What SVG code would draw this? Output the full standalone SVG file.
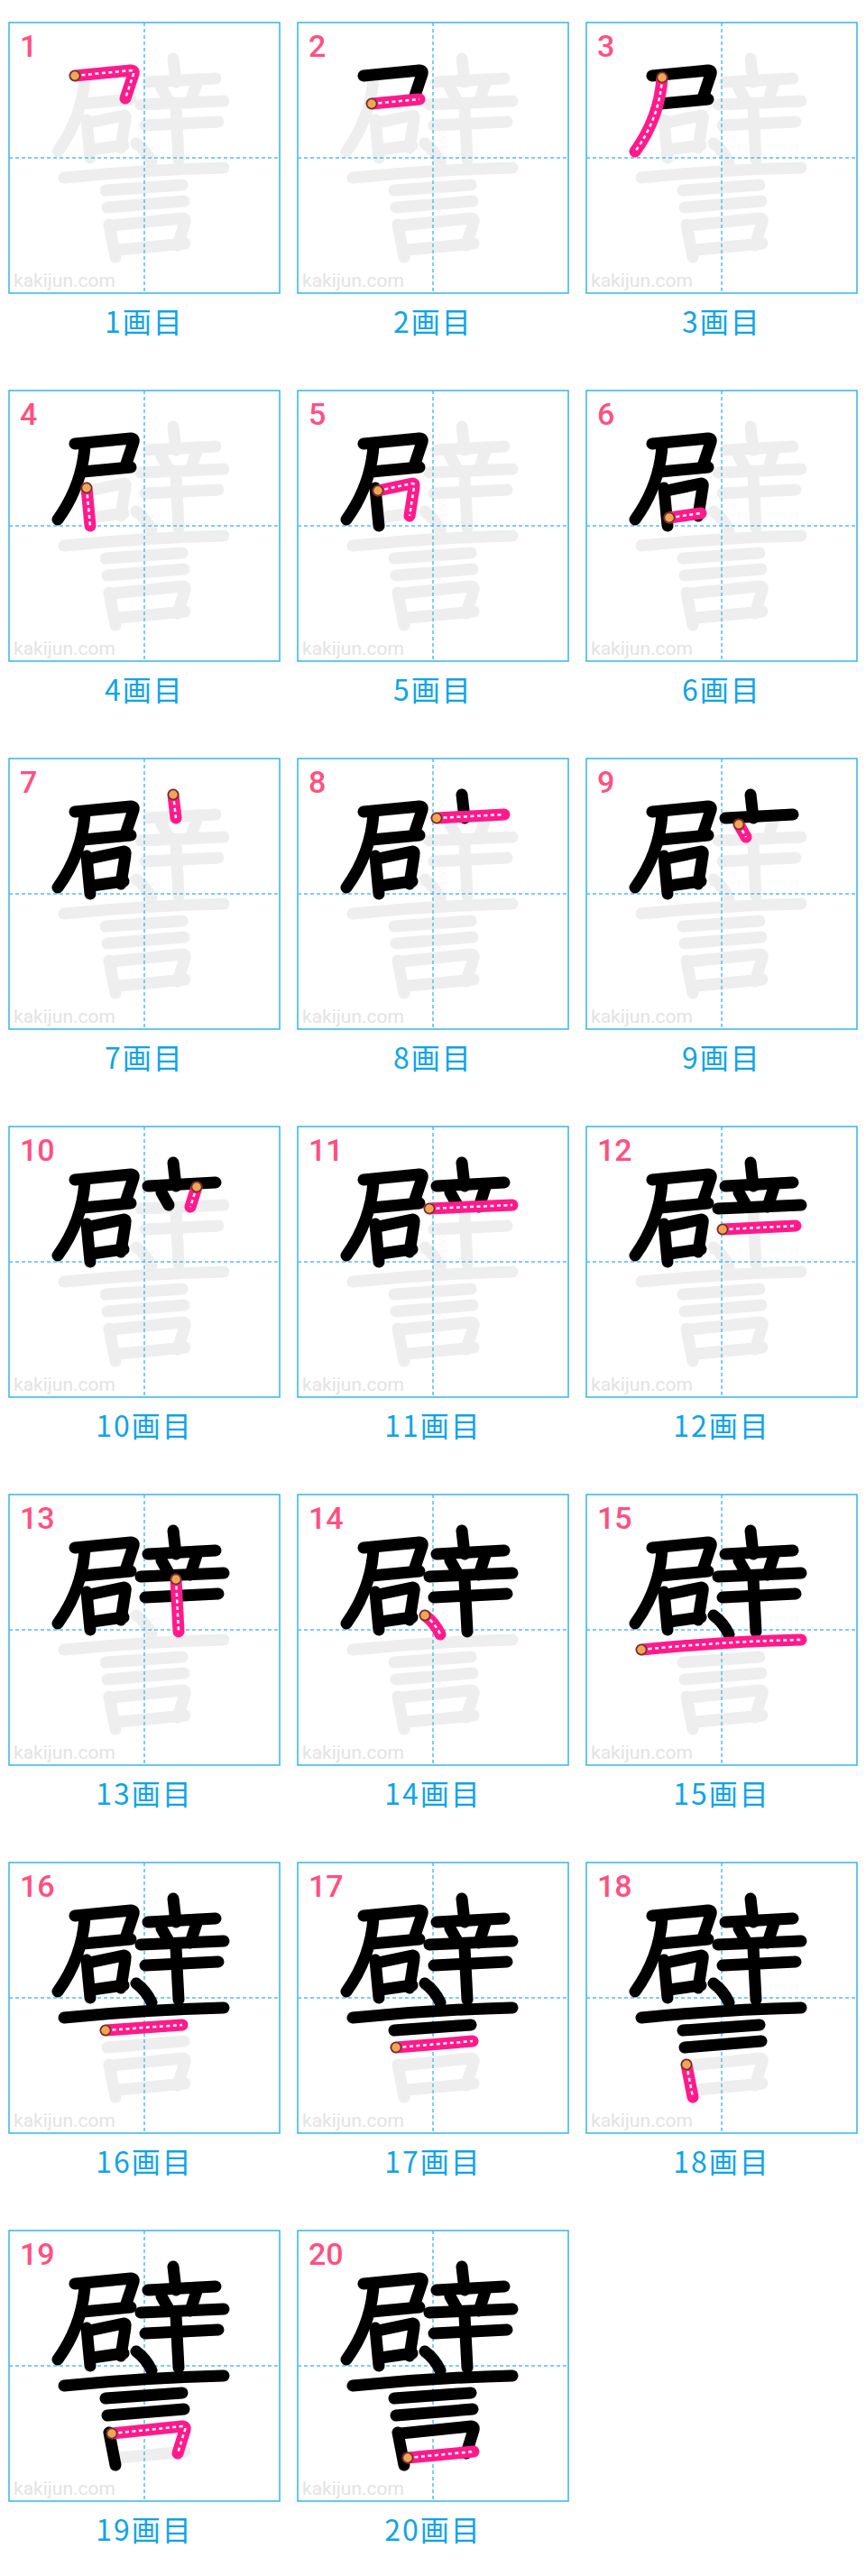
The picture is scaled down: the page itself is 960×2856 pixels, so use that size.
<svg xmlns="http://www.w3.org/2000/svg" width="960" height="2856" viewBox="0 0 960 2856">
<style>
.bx{fill:#fff;stroke:#33b5ef;stroke-width:1.5}
.cl{stroke:#4fc0f0;stroke-width:1.5;stroke-dasharray:4 3}
.wm{font-family:Roboto,"Liberation Sans",sans-serif;font-size:21px;fill:#e3e3e3}
.n{font-family:Roboto,"Liberation Sans",sans-serif;font-size:34px;font-weight:500;fill:#ff4f80}
.c{font-family:"Noto Sans CJK JP","Noto Sans",sans-serif;font-size:32px;fill:#0ea4e8;text-anchor:middle;letter-spacing:2px}
.g,.k,.r,.w{fill:none;stroke-linecap:round;stroke-linejoin:round}
.g{stroke:#eeeeee;stroke-width:13}
.k{stroke:#000;stroke-width:13}
.r{stroke:#ff1a8c;stroke-width:13}
.w{stroke:#fff;stroke-width:2.5;stroke-dasharray:4 3.5;stroke-linecap:butt}
.o{fill:#f7a257;stroke:#5b3a1c;stroke-width:1.5}
</style>
<defs>
<path id="s1" d="M73,59 L135,53 Q139,53 138,57 L129,84"/>
<path id="s2" d="M82,90 L135,85"/>
<path id="s3" d="M84,61 C82,92 72,118 54,143"/>
<path id="s4" d="M86,108 L90,150"/>
<path id="s5" d="M89,111 L127,103 Q130,103 129,107 L124,139"/>
<path id="s6" d="M92,141 L127,136"/>
<path id="s7" d="M182,40 L185,66"/>
<path id="s8" d="M154,66 L229,62"/>
<path id="s9" d="M169,73 L177,87"/>
<path id="s10" d="M208,67 L201,89"/>
<path id="s11" d="M146,91 L238,87"/>
<path id="s12" d="M151,114 L232,110"/>
<path id="s13" d="M185,94 L188,152"/>
<path id="s14" d="M141,134 Q152,142 158,155"/>
<path id="s15" d="M61,172 Q150,163 238,161"/>
<path id="s16" d="M107,186 L192,180"/>
<path id="s17" d="M109,205 L194,198"/>
<path id="s18" d="M111,224 L118,260"/>
<path id="s19" d="M114,225 L192,217 Q196,217 195,221 L187,247"/>
<path id="s20" d="M122,252 L195,245"/>
<g id="b1"><use href="#s1"/></g>
<g id="b2"><use href="#b1"/><use href="#s2"/></g>
<g id="b3"><use href="#b2"/><use href="#s3"/></g>
<g id="b4"><use href="#b3"/><use href="#s4"/></g>
<g id="b5"><use href="#b4"/><use href="#s5"/></g>
<g id="b6"><use href="#b5"/><use href="#s6"/></g>
<g id="b7"><use href="#b6"/><use href="#s7"/></g>
<g id="b8"><use href="#b7"/><use href="#s8"/></g>
<g id="b9"><use href="#b8"/><use href="#s9"/></g>
<g id="b10"><use href="#b9"/><use href="#s10"/></g>
<g id="b11"><use href="#b10"/><use href="#s11"/></g>
<g id="b12"><use href="#b11"/><use href="#s12"/></g>
<g id="b13"><use href="#b12"/><use href="#s13"/></g>
<g id="b14"><use href="#b13"/><use href="#s14"/></g>
<g id="b15"><use href="#b14"/><use href="#s15"/></g>
<g id="b16"><use href="#b15"/><use href="#s16"/></g>
<g id="b17"><use href="#b16"/><use href="#s17"/></g>
<g id="b18"><use href="#b17"/><use href="#s18"/></g>
<g id="b19"><use href="#b18"/><use href="#s19"/></g>
<g id="b20"><use href="#b19"/><use href="#s20"/></g>
</defs>
<rect width="960" height="2856" fill="#fff"/>

<g id="p1" transform="translate(10,25)">
<rect class="bx" width="300" height="300"/><use href="#b20" class="g"/>
<line class="cl" x1="150" y1="0" x2="150" y2="300"/><line class="cl" x1="0" y1="150" x2="300" y2="150"/>
<use href="#s1" class="r"/><use href="#s1" class="w"/><circle class="o" cx="73" cy="59" r="5.5"/>
<text class="n" x="12" y="38">1</text><text class="wm" x="5" y="293">kakijun.com</text><text class="c" x="150" y="344">1画目</text>
</g>
<g id="p2" transform="translate(330,25)">
<rect class="bx" width="300" height="300"/><use href="#b20" class="g"/>
<line class="cl" x1="150" y1="0" x2="150" y2="300"/><line class="cl" x1="0" y1="150" x2="300" y2="150"/>
<use href="#b1" class="k"/>
<use href="#s2" class="r"/><use href="#s2" class="w"/><circle class="o" cx="82" cy="90" r="5.5"/>
<text class="n" x="12" y="38">2</text><text class="wm" x="5" y="293">kakijun.com</text><text class="c" x="150" y="344">2画目</text>
</g>
<g id="p3" transform="translate(650,25)">
<rect class="bx" width="300" height="300"/><use href="#b20" class="g"/>
<line class="cl" x1="150" y1="0" x2="150" y2="300"/><line class="cl" x1="0" y1="150" x2="300" y2="150"/>
<use href="#b2" class="k"/>
<use href="#s3" class="r"/><use href="#s3" class="w"/><circle class="o" cx="84" cy="61" r="5.5"/>
<text class="n" x="12" y="38">3</text><text class="wm" x="5" y="293">kakijun.com</text><text class="c" x="150" y="344">3画目</text>
</g>

<g id="p4" transform="translate(10,433)">
<rect class="bx" width="300" height="300"/><use href="#b20" class="g"/>
<line class="cl" x1="150" y1="0" x2="150" y2="300"/><line class="cl" x1="0" y1="150" x2="300" y2="150"/>
<use href="#b3" class="k"/>
<use href="#s4" class="r"/><use href="#s4" class="w"/><circle class="o" cx="86" cy="108" r="5.5"/>
<text class="n" x="12" y="38">4</text><text class="wm" x="5" y="293">kakijun.com</text><text class="c" x="150" y="344">4画目</text>
</g>
<g id="p5" transform="translate(330,433)">
<rect class="bx" width="300" height="300"/><use href="#b20" class="g"/>
<line class="cl" x1="150" y1="0" x2="150" y2="300"/><line class="cl" x1="0" y1="150" x2="300" y2="150"/>
<use href="#b4" class="k"/>
<use href="#s5" class="r"/><use href="#s5" class="w"/><circle class="o" cx="89" cy="111" r="5.5"/>
<text class="n" x="12" y="38">5</text><text class="wm" x="5" y="293">kakijun.com</text><text class="c" x="150" y="344">5画目</text>
</g>
<g id="p6" transform="translate(650,433)">
<rect class="bx" width="300" height="300"/><use href="#b20" class="g"/>
<line class="cl" x1="150" y1="0" x2="150" y2="300"/><line class="cl" x1="0" y1="150" x2="300" y2="150"/>
<use href="#b5" class="k"/>
<use href="#s6" class="r"/><use href="#s6" class="w"/><circle class="o" cx="92" cy="141" r="5.5"/>
<text class="n" x="12" y="38">6</text><text class="wm" x="5" y="293">kakijun.com</text><text class="c" x="150" y="344">6画目</text>
</g>

<g id="p7" transform="translate(10,841)">
<rect class="bx" width="300" height="300"/><use href="#b20" class="g"/>
<line class="cl" x1="150" y1="0" x2="150" y2="300"/><line class="cl" x1="0" y1="150" x2="300" y2="150"/>
<use href="#b6" class="k"/>
<use href="#s7" class="r"/><use href="#s7" class="w"/><circle class="o" cx="182" cy="40" r="5.5"/>
<text class="n" x="12" y="38">7</text><text class="wm" x="5" y="293">kakijun.com</text><text class="c" x="150" y="344">7画目</text>
</g>
<g id="p8" transform="translate(330,841)">
<rect class="bx" width="300" height="300"/><use href="#b20" class="g"/>
<line class="cl" x1="150" y1="0" x2="150" y2="300"/><line class="cl" x1="0" y1="150" x2="300" y2="150"/>
<use href="#b7" class="k"/>
<use href="#s8" class="r"/><use href="#s8" class="w"/><circle class="o" cx="154" cy="66" r="5.5"/>
<text class="n" x="12" y="38">8</text><text class="wm" x="5" y="293">kakijun.com</text><text class="c" x="150" y="344">8画目</text>
</g>
<g id="p9" transform="translate(650,841)">
<rect class="bx" width="300" height="300"/><use href="#b20" class="g"/>
<line class="cl" x1="150" y1="0" x2="150" y2="300"/><line class="cl" x1="0" y1="150" x2="300" y2="150"/>
<use href="#b8" class="k"/>
<use href="#s9" class="r"/><use href="#s9" class="w"/><circle class="o" cx="169" cy="73" r="5.5"/>
<text class="n" x="12" y="38">9</text><text class="wm" x="5" y="293">kakijun.com</text><text class="c" x="150" y="344">9画目</text>
</g>

<g id="p10" transform="translate(10,1249)">
<rect class="bx" width="300" height="300"/><use href="#b20" class="g"/>
<line class="cl" x1="150" y1="0" x2="150" y2="300"/><line class="cl" x1="0" y1="150" x2="300" y2="150"/>
<use href="#b9" class="k"/>
<use href="#s10" class="r"/><use href="#s10" class="w"/><circle class="o" cx="208" cy="67" r="5.5"/>
<text class="n" x="12" y="38">10</text><text class="wm" x="5" y="293">kakijun.com</text><text class="c" x="150" y="344">10画目</text>
</g>
<g id="p11" transform="translate(330,1249)">
<rect class="bx" width="300" height="300"/><use href="#b20" class="g"/>
<line class="cl" x1="150" y1="0" x2="150" y2="300"/><line class="cl" x1="0" y1="150" x2="300" y2="150"/>
<use href="#b10" class="k"/>
<use href="#s11" class="r"/><use href="#s11" class="w"/><circle class="o" cx="146" cy="91" r="5.5"/>
<text class="n" x="12" y="38">11</text><text class="wm" x="5" y="293">kakijun.com</text><text class="c" x="150" y="344">11画目</text>
</g>
<g id="p12" transform="translate(650,1249)">
<rect class="bx" width="300" height="300"/><use href="#b20" class="g"/>
<line class="cl" x1="150" y1="0" x2="150" y2="300"/><line class="cl" x1="0" y1="150" x2="300" y2="150"/>
<use href="#b11" class="k"/>
<use href="#s12" class="r"/><use href="#s12" class="w"/><circle class="o" cx="151" cy="114" r="5.5"/>
<text class="n" x="12" y="38">12</text><text class="wm" x="5" y="293">kakijun.com</text><text class="c" x="150" y="344">12画目</text>
</g>

<g id="p13" transform="translate(10,1657)">
<rect class="bx" width="300" height="300"/><use href="#b20" class="g"/>
<line class="cl" x1="150" y1="0" x2="150" y2="300"/><line class="cl" x1="0" y1="150" x2="300" y2="150"/>
<use href="#b12" class="k"/>
<use href="#s13" class="r"/><use href="#s13" class="w"/><circle class="o" cx="185" cy="94" r="5.5"/>
<text class="n" x="12" y="38">13</text><text class="wm" x="5" y="293">kakijun.com</text><text class="c" x="150" y="344">13画目</text>
</g>
<g id="p14" transform="translate(330,1657)">
<rect class="bx" width="300" height="300"/><use href="#b20" class="g"/>
<line class="cl" x1="150" y1="0" x2="150" y2="300"/><line class="cl" x1="0" y1="150" x2="300" y2="150"/>
<use href="#b13" class="k"/>
<use href="#s14" class="r"/><use href="#s14" class="w"/><circle class="o" cx="141" cy="134" r="5.5"/>
<text class="n" x="12" y="38">14</text><text class="wm" x="5" y="293">kakijun.com</text><text class="c" x="150" y="344">14画目</text>
</g>
<g id="p15" transform="translate(650,1657)">
<rect class="bx" width="300" height="300"/><use href="#b20" class="g"/>
<line class="cl" x1="150" y1="0" x2="150" y2="300"/><line class="cl" x1="0" y1="150" x2="300" y2="150"/>
<use href="#b14" class="k"/>
<use href="#s15" class="r"/><use href="#s15" class="w"/><circle class="o" cx="61" cy="172" r="5.5"/>
<text class="n" x="12" y="38">15</text><text class="wm" x="5" y="293">kakijun.com</text><text class="c" x="150" y="344">15画目</text>
</g>

<g id="p16" transform="translate(10,2065)">
<rect class="bx" width="300" height="300"/><use href="#b20" class="g"/>
<line class="cl" x1="150" y1="0" x2="150" y2="300"/><line class="cl" x1="0" y1="150" x2="300" y2="150"/>
<use href="#b15" class="k"/>
<use href="#s16" class="r"/><use href="#s16" class="w"/><circle class="o" cx="107" cy="186" r="5.5"/>
<text class="n" x="12" y="38">16</text><text class="wm" x="5" y="293">kakijun.com</text><text class="c" x="150" y="344">16画目</text>
</g>
<g id="p17" transform="translate(330,2065)">
<rect class="bx" width="300" height="300"/><use href="#b20" class="g"/>
<line class="cl" x1="150" y1="0" x2="150" y2="300"/><line class="cl" x1="0" y1="150" x2="300" y2="150"/>
<use href="#b16" class="k"/>
<use href="#s17" class="r"/><use href="#s17" class="w"/><circle class="o" cx="109" cy="205" r="5.5"/>
<text class="n" x="12" y="38">17</text><text class="wm" x="5" y="293">kakijun.com</text><text class="c" x="150" y="344">17画目</text>
</g>
<g id="p18" transform="translate(650,2065)">
<rect class="bx" width="300" height="300"/><use href="#b20" class="g"/>
<line class="cl" x1="150" y1="0" x2="150" y2="300"/><line class="cl" x1="0" y1="150" x2="300" y2="150"/>
<use href="#b17" class="k"/>
<use href="#s18" class="r"/><use href="#s18" class="w"/><circle class="o" cx="111" cy="224" r="5.5"/>
<text class="n" x="12" y="38">18</text><text class="wm" x="5" y="293">kakijun.com</text><text class="c" x="150" y="344">18画目</text>
</g>

<g id="p19" transform="translate(10,2473)">
<rect class="bx" width="300" height="300"/><use href="#b20" class="g"/>
<line class="cl" x1="150" y1="0" x2="150" y2="300"/><line class="cl" x1="0" y1="150" x2="300" y2="150"/>
<use href="#b18" class="k"/>
<use href="#s19" class="r"/><use href="#s19" class="w"/><circle class="o" cx="114" cy="225" r="5.5"/>
<text class="n" x="12" y="38">19</text><text class="wm" x="5" y="293">kakijun.com</text><text class="c" x="150" y="344">19画目</text>
</g>
<g id="p20" transform="translate(330,2473)">
<rect class="bx" width="300" height="300"/><use href="#b20" class="g"/>
<line class="cl" x1="150" y1="0" x2="150" y2="300"/><line class="cl" x1="0" y1="150" x2="300" y2="150"/>
<use href="#b19" class="k"/>
<use href="#s20" class="r"/><use href="#s20" class="w"/><circle class="o" cx="122" cy="252" r="5.5"/>
<text class="n" x="12" y="38">20</text><text class="wm" x="5" y="293">kakijun.com</text><text class="c" x="150" y="344">20画目</text>
</g>
</svg>
